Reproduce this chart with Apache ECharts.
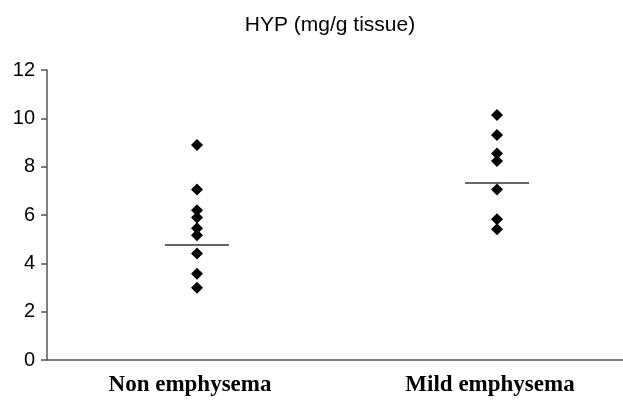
<!DOCTYPE html>
<html>
<head>
<meta charset="utf-8">
<script src="https://cdn.jsdelivr.net/npm/echarts@6/dist/echarts.min.js"></script>
<style>
html,body{margin:0;padding:0;background:#fff;}
#c{width:623px;height:400px;}
</style>
</head>
<body>
<div id="c"></div>
<script>
var titleText = 'HYP (mg/g tissue)';
var categories = ['Non emphysema', 'Mild emphysema'];
var nonEmphysema = [8.9, 7.06, 6.2, 5.9, 5.45, 5.16, 4.41, 3.57, 2.99];
var mildEmphysema = [10.14, 9.31, 8.55, 8.23, 7.06, 5.82, 5.41];
var groupLines = [4.76, 7.32];
var yTicks = [0, 2, 4, 6, 8, 10, 12];

var pts = [];
nonEmphysema.forEach(function (v) { pts.push([categories[0], v]); });
mildEmphysema.forEach(function (v) { pts.push([categories[1], v]); });
var lines = groupLines.map(function (v, i) { return [categories[i], v]; });

var chart = echarts.init(document.getElementById('c'), null, {renderer: 'canvas'});
chart.setOption({
  animation: false,
  backgroundColor: '#ffffff',
  title: {
    text: titleText,
    left: 325,
    top: 10,
    textAlign: 'center',
    textStyle: {fontFamily: 'Liberation Sans, Arial, sans-serif', fontSize: 21, fontWeight: 'normal', color: '#000'}
  },
  grid: {left: 47, top: 70, width: 600, height: 290, outerBoundsMode: 'none', containLabel: false},
  xAxis: {
    type: 'category',
    data: categories,
    boundaryGap: true,
    axisLine: {lineStyle: {color: '#555', width: 1.5}},
    axisTick: {show: false},
    axisLabel: {
      margin: 14,
      padding: [0, 14, 0, 0],
      fontFamily: 'Liberation Serif, Times New Roman, serif',
      fontWeight: 'bold',
      fontSize: 23,
      color: '#000'
    }
  },
  yAxis: {
    type: 'value',
    min: yTicks[0],
    max: yTicks[yTicks.length - 1],
    interval: 2,
    splitLine: {show: false},
    axisLine: {show: true, lineStyle: {color: '#555', width: 1.5}},
    axisTick: {show: true, inside: false, length: 6, lineStyle: {color: '#555', width: 1.5}},
    axisLabel: {
      margin: 12,
      fontFamily: 'Liberation Sans, Arial, sans-serif',
      fontSize: 20,
      color: '#000'
    }
  },
  series: [
    {
      type: 'scatter',
      data: pts,
      symbol: 'diamond',
      symbolSize: 12,
      itemStyle: {color: '#000', opacity: 1}
    },
    {
      type: 'scatter',
      data: lines,
      symbol: 'rect',
      symbolSize: [64, 1.5],
      itemStyle: {color: '#333', opacity: 1}
    }
  ]
});
</script>
</body>
</html>
